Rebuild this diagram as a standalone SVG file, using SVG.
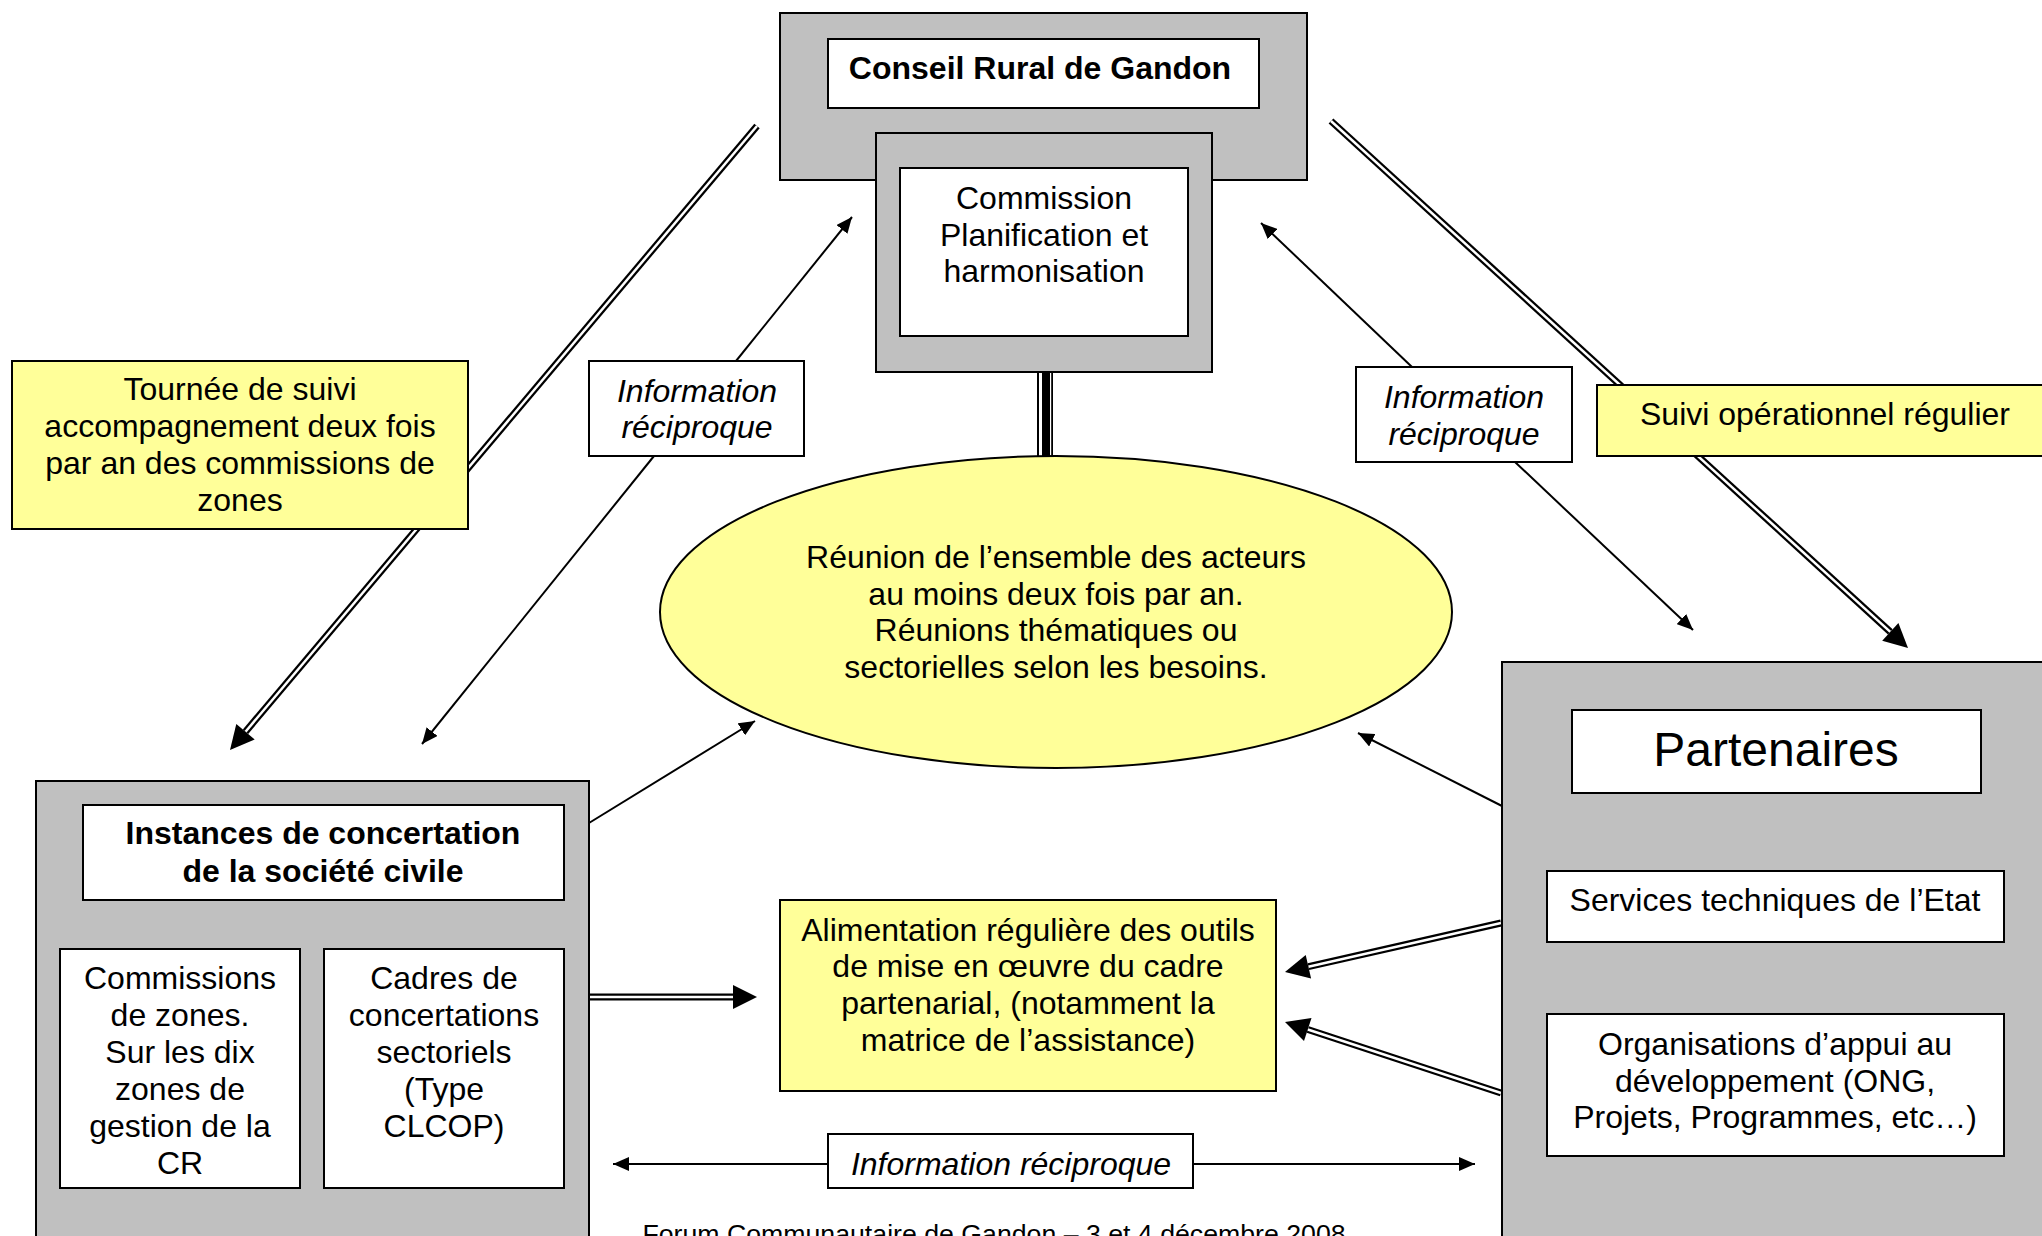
<svg xmlns="http://www.w3.org/2000/svg" width="2042" height="1236" viewBox="0 0 2042 1236">
<defs>
<style>
text{font-family:"Liberation Sans",Arial,sans-serif;font-size:32px;fill:#000;text-anchor:middle}
.b{font-weight:bold}
.i{font-style:italic}
.gray{fill:#C0C0C0;stroke:#000;stroke-width:2}
.white{fill:#fff;stroke:#000;stroke-width:2}
.yel{fill:#FFFF99;stroke:#000;stroke-width:2}
.thin{stroke:#000;stroke-width:2;fill:none}
.dblb{stroke:#000;stroke-width:7;fill:none}
.dblw{stroke:#fff;stroke-width:2.5;fill:none}
.head{fill:#000}
</style>
<marker id="ah" viewBox="0 0 16 14" refX="16" refY="7" markerWidth="16" markerHeight="14" markerUnits="userSpaceOnUse" orient="auto-start-reverse">
<path d="M0,0 L16,7 L0,14 z" fill="#000"/>
</marker>
</defs>
<rect width="2042" height="1236" fill="#fff"/>

<g id="connectors">
  <!-- triple line Commission - Reunion -->
  <rect x="1037" y="372" width="16" height="86" fill="#000"/>
  <rect x="1039" y="372" width="3" height="86" fill="#fff"/>
  <rect x="1050" y="372" width="1.2" height="86" fill="#fff"/>
  <!-- Tournee double arrow -->
  <line class="dblb" x1="757" y1="126" x2="245.5" y2="731.7"/>
  <line class="dblw" x1="757" y1="126" x2="245.5" y2="731.7"/>
  <polygon class="head" points="230,750 254.7,739.4 236.3,724"/>
  <!-- Suivi double arrow -->
  <line class="dblb" x1="1331" y1="121" x2="1890.3" y2="631.8"/>
  <line class="dblw" x1="1331" y1="121" x2="1890.3" y2="631.8"/>
  <polygon class="head" points="1908,648 1882.2,640.7 1898.4,622.9"/>
  <!-- Instances -> Alimentation -->
  <line class="dblb" x1="589" y1="997" x2="734" y2="997"/>
  <line class="dblw" x1="589" y1="997" x2="734" y2="997"/>
  <polygon class="head" points="757,997 733,985 733,1009"/>
  <!-- Partenaires -> Alimentation upper -->
  <line class="dblb" x1="1501" y1="923" x2="1308.4" y2="966.7"/>
  <line class="dblw" x1="1501" y1="923" x2="1308.4" y2="966.7"/>
  <polygon class="head" points="1285,972 1311.1,978.4 1305.7,955"/>
  <!-- Partenaires -> Alimentation lower -->
  <line class="dblb" x1="1501" y1="1093" x2="1307.8" y2="1029.5"/>
  <line class="dblw" x1="1501" y1="1093" x2="1307.8" y2="1029.5"/>
  <polygon class="head" points="1285,1022 1304,1040.9 1311.5,1018.1"/>
  <!-- single arrows -->
  <line class="thin" x1="736" y1="361" x2="852" y2="217" marker-end="url(#ah)"/>
  <line class="thin" x1="654" y1="456" x2="422" y2="744" marker-end="url(#ah)"/>
  <line class="thin" x1="1412" y1="367" x2="1261" y2="223" marker-end="url(#ah)"/>
  <line class="thin" x1="1515" y1="462" x2="1693" y2="630" marker-end="url(#ah)"/>
  <line class="thin" x1="589" y1="823" x2="755" y2="721" marker-end="url(#ah)"/>
  <line class="thin" x1="1502" y1="806" x2="1358" y2="733" marker-end="url(#ah)"/>
  <line class="thin" x1="613" y1="1164" x2="1475" y2="1164" marker-start="url(#ah)" marker-end="url(#ah)"/>
</g>

<g id="conseil">
  <rect class="gray" x="780" y="13" width="527" height="167"/>
  <rect class="white" x="828" y="39" width="431" height="69"/>
  <text class="b" x="1040" y="79">Conseil Rural de Gandon</text>
</g>

<g id="commission">
  <rect class="gray" x="876" y="133" width="336" height="239"/>
  <rect class="white" x="900" y="168" width="288" height="168"/>
  <text x="1044" y="209">Commission</text>
  <text x="1044" y="245.5">Planification et</text>
  <text x="1044" y="282">harmonisation</text>
</g>

<g id="tournee">
  <rect class="yel" x="12" y="361" width="456" height="168"/>
  <text x="240" y="400">Tournée de suivi</text>
  <text x="240" y="437">accompagnement deux fois</text>
  <text x="240" y="474">par an des commissions de</text>
  <text x="240" y="511">zones</text>
</g>

<g id="info-left">
  <rect class="white" x="589" y="361" width="215" height="95"/>
  <text class="i" x="697" y="402">Information</text>
  <text class="i" x="697" y="438">réciproque</text>
</g>

<g id="info-right">
  <rect class="white" x="1356" y="367" width="216" height="95"/>
  <text class="i" x="1464" y="408">Information</text>
  <text class="i" x="1464" y="445">réciproque</text>
</g>

<g id="suivi">
  <rect class="yel" x="1597" y="385" width="460" height="71"/>
  <text x="1825" y="425">Suivi opérationnel régulier</text>
</g>

<g id="reunion">
  <ellipse cx="1056" cy="612" rx="396" ry="156" fill="#FFFF99" stroke="#000" stroke-width="2"/>
  <text x="1056" y="568">Réunion de l’ensemble des acteurs</text>
  <text x="1056" y="605">au moins deux fois par an.</text>
  <text x="1056" y="641">Réunions thématiques ou</text>
  <text x="1056" y="678">sectorielles selon les besoins.</text>
</g>

<g id="instances">
  <rect class="gray" x="36" y="781" width="553" height="470"/>
  <rect class="white" x="83" y="805" width="481" height="95"/>
  <text class="b" x="323" y="844">Instances de concertation</text>
  <text class="b" x="323" y="882">de la société civile</text>
</g>

<g id="commissions-zones">
  <rect class="white" x="60" y="949" width="240" height="239"/>
  <text x="180" y="989">Commissions</text>
  <text x="180" y="1026">de zones.</text>
  <text x="180" y="1063">Sur les dix</text>
  <text x="180" y="1100">zones de</text>
  <text x="180" y="1137">gestion de la</text>
  <text x="180" y="1174">CR</text>
</g>

<g id="cadres">
  <rect class="white" x="324" y="949" width="240" height="239"/>
  <text x="444" y="989">Cadres de</text>
  <text x="444" y="1026">concertations</text>
  <text x="444" y="1063">sectoriels</text>
  <text x="444" y="1100">(Type</text>
  <text x="444" y="1137">CLCOP)</text>
</g>

<g id="alimentation">
  <rect class="yel" x="780" y="900" width="496" height="191"/>
  <text x="1028" y="941">Alimentation régulière des outils</text>
  <text x="1028" y="977">de mise en œuvre du cadre</text>
  <text x="1028" y="1014">partenarial, (notamment la</text>
  <text x="1028" y="1051">matrice de l’assistance)</text>
</g>

<g id="info-bottom">
  <rect class="white" x="828" y="1134" width="365" height="54"/>
  <text class="i" x="1011" y="1175">Information réciproque</text>
</g>

<g id="partenaires">
  <rect class="gray" x="1502" y="662" width="560" height="590"/>
  <rect class="white" x="1572" y="710" width="409" height="83"/>
  <text x="1776" y="766" style="font-size:48px">Partenaires</text>
</g>

<g id="services">
  <rect class="white" x="1547" y="871" width="457" height="71"/>
  <text x="1775" y="911">Services techniques de l’Etat</text>
</g>

<g id="organisations">
  <rect class="white" x="1547" y="1014" width="457" height="142"/>
  <text x="1775" y="1055">Organisations d’appui au</text>
  <text x="1775" y="1092">développement (ONG,</text>
  <text x="1775" y="1128">Projets, Programmes, etc…)</text>
</g>

<text x="994" y="1243" style="font-size:26.7px">Forum Communautaire de Gandon – 3 et 4 décembre 2008</text>
</svg>
